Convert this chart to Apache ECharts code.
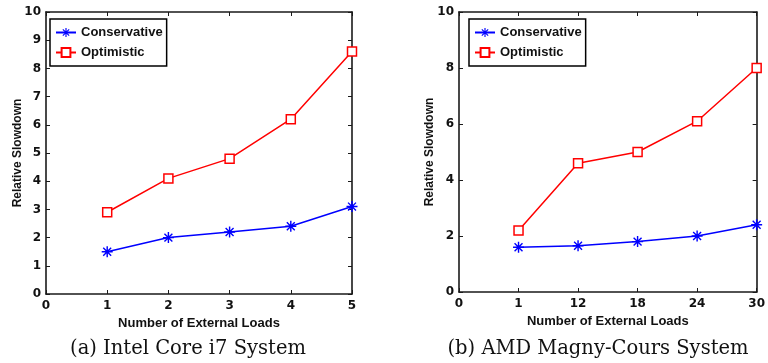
<!DOCTYPE html>
<html><head><meta charset="utf-8">
<script src="https://cdn.jsdelivr.net/npm/echarts@6/dist/echarts.min.js"></script>
<style>html,body{margin:0;padding:0;background:#fff}#c{width:768px;height:363px}</style>
</head><body><div id="c"></div>
<script>
// Data
const seriesNames = ['Conservative', 'Optimistic'];
const intelLoads = [1, 2, 3, 4, 5];
const intelConservative = [1.5, 2.0, 2.2, 2.4, 3.1];
const intelOptimistic = [2.9, 4.1, 4.8, 6.2, 8.6];
const amdCategories = ['0', '1', '12', '18', '24', '30'];
const amdConservative = ['-', 1.6, 1.65, 1.8, 2.0, 2.4];
const amdOptimistic = ['-', 2.2, 4.6, 5.0, 6.1, 8.0];
const captions = ['(a) Intel Core i7 System', '(b) AMD Magny-Cours System'];
const xName = 'Number of External Loads';
const yName = 'Relative Slowdown';

const asterisk = 'path://M0 8.7L20 8.7L20 11.3L0 11.3Z M8.7 0L11.3 0L11.3 20L8.7 20Z M1.9 3.7L3.7 1.9L18.1 16.3L16.3 18.1Z M16.3 1.9L18.1 3.7L3.7 18.1L1.9 16.3Z';
const SANS = 'Liberation Sans';
const axisColor = '#1a1a1a';
const lab = {color: '#111', fontFamily: 'DejaVu Sans', fontWeight: 'bold', fontSize: 12};
const xNameStyle = {fontFamily: SANS, fontWeight: 'bold', fontSize: 13, color: '#111'};
const yNameStyle = {fontFamily: SANS, fontWeight: 'bold', fontSize: 12, color: '#111'};

function axisBase(extra) {
  return Object.assign({
    axisLine: {show: true, onZero: false, lineStyle: {color: axisColor, width: 1.6}},
    axisTick: {show: true, inside: true, length: 4, lineStyle: {color: axisColor, width: 1}},
    splitLine: {show: false}
  }, extra);
}

const chart = echarts.init(document.getElementById('c'), null, {renderer: 'canvas'});

function lineSeries(name, x, y, data, isCons) {
  return {
    name: name, type: 'line', xAxisIndex: x, yAxisIndex: y, data: data,
    symbol: isCons ? asterisk : 'rect',
    symbolSize: isCons ? 11 : 9,
    showAllSymbol: true,
    lineStyle: {color: isCons ? '#0000ff' : '#ff0000', width: 1.5},
    itemStyle: isCons ? {color: '#0000ff'} : {color: '#ffffff', borderColor: '#ff0000', borderWidth: 1.5},
    emphasis: {disabled: true},
    animation: false
  };
}

function legendAt(left) {
  return {data: seriesNames, left: left, top: 19, orient: 'vertical', itemWidth: 20, itemHeight: 11, itemGap: 7,
    padding: [7, 4, 7, 5], borderColor: '#000', borderWidth: 1.5, backgroundColor: '#fff',
    textStyle: {fontFamily: SANS, fontWeight: 'bold', fontSize: 13, color: '#111'}, selectedMode: false};
}

const capStyle = {fontFamily: 'DejaVu Serif', fontWeight: 'normal', fontSize: 19.5, color: '#111'};

const option = {
  animation: false,
  grid: [
    {left: 46, right: 416, top: 12, bottom: 69},
    {left: 459, right: 6, top: 12, bottom: 71}
  ],
  title: [
    {text: captions[0], left: 183, top: 334, textAlign: 'center', textStyle: capStyle},
    {text: captions[1], left: 593, top: 334, textAlign: 'center', textStyle: capStyle}
  ],
  legend: [legendAt(50), legendAt(469)],
  xAxis: [
    axisBase({type: 'value', gridIndex: 0, min: 0, max: 5, interval: 1, position: 'bottom',
      name: xName, nameLocation: 'middle', nameGap: 20, nameTextStyle: xNameStyle,
      axisLabel: Object.assign({margin: 6}, lab)}),
    axisBase({type: 'value', gridIndex: 0, min: 0, max: 5, interval: 1, position: 'top', axisLabel: {show: false}}),
    axisBase({type: 'category', gridIndex: 1, data: amdCategories, boundaryGap: false, position: 'bottom',
      name: xName, nameLocation: 'middle', nameGap: 18, nameTextStyle: xNameStyle,
      axisLabel: Object.assign({margin: 6, interval: 0}, lab),
      axisTick: {show: true, inside: true, length: 4, interval: 0, lineStyle: {color: axisColor}}}),
    axisBase({type: 'category', gridIndex: 1, data: amdCategories, boundaryGap: false, position: 'top',
      axisLabel: {show: false}, axisTick: {show: true, inside: true, length: 4, interval: 0, lineStyle: {color: axisColor}}})
  ],
  yAxis: [
    axisBase({type: 'value', gridIndex: 0, min: 0, max: 10, interval: 1, position: 'left',
      name: yName, nameLocation: 'middle', nameGap: 22, nameMoveOverlap: false, nameTextStyle: yNameStyle,
      axisLabel: Object.assign({margin: 5}, lab)}),
    axisBase({type: 'value', gridIndex: 0, min: 0, max: 10, interval: 1, position: 'right', axisLabel: {show: false}}),
    axisBase({type: 'value', gridIndex: 1, min: 0, max: 10, interval: 2, position: 'left',
      name: yName, nameLocation: 'middle', nameGap: 23, nameMoveOverlap: false, nameTextStyle: yNameStyle,
      axisLabel: Object.assign({margin: 5}, lab)}),
    axisBase({type: 'value', gridIndex: 1, min: 0, max: 10, interval: 2, position: 'right', axisLabel: {show: false}})
  ],
  series: [
    lineSeries(seriesNames[0], 0, 0, intelLoads.map((x, i) => [x, intelConservative[i]]), true),
    lineSeries(seriesNames[1], 0, 0, intelLoads.map((x, i) => [x, intelOptimistic[i]]), false),
    lineSeries(seriesNames[0], 2, 2, amdConservative, true),
    lineSeries(seriesNames[1], 2, 2, amdOptimistic, false)
  ]
};
chart.setOption(option);
</script></body></html>
